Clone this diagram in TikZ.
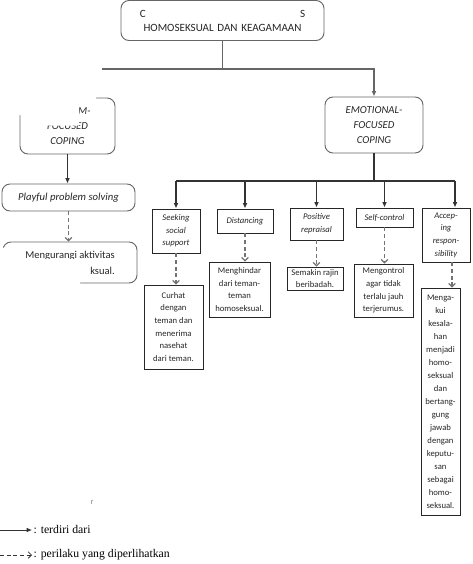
\documentclass[tikz,border=0pt]{standalone}
\usepackage{fontspec}
\setmainfont{Carlito}
\newfontfamily\legendfont{Liberation Serif}
\usetikzlibrary{arrows.meta, positioning}

\begin{document}
\begin{tikzpicture}[
    x=0.75pt, y=-0.75pt,
    rbox/.style={draw=black!60, rounded corners=6pt, line width=0.7pt, align=center, inner sep=1pt, text=black!85},
    sbox/.style={draw=black!85, line width=0.7pt, align=center, inner sep=1pt, font=\fontsize{6.5}{9.5}\selectfont, text=black!85},
    ibox/.style={sbox, font=\fontsize{6.5}{9.5}\selectfont\itshape},
    arr/.style={draw=black!80, line width=0.8pt, -{Latex[length=4pt,width=3.5pt]}},
    darr/.style={draw=black!55, line width=0.9pt, dash pattern=on 3pt off 2pt, -{Straight Barb[length=2.5pt,width=5pt]}}
  ]
    \useasboundingbox (0,0) rectangle (472,564);

    \node[rbox, minimum width=152.25pt, minimum height=30pt, text width=124pt, font=\fontsize{8.3}{10.5}\selectfont] (title) at (222.5,20.5) {C\hfill S\\HOMOSEKSUAL DAN KEAGAMAAN};

    \node[rbox, minimum width=71.25pt, minimum height=42pt, font=\fontsize{8}{11}\selectfont\itshape] (prob) at (67.5,126) {\phantom{PROBLE}M-\\FOCUSED\\COPING};
    \node[rbox, minimum width=73.5pt, minimum height=42pt, font=\fontsize{8}{11.25}\selectfont\itshape] (emo) at (374,125) {EMOTIONAL-\\FOCUSED\\COPING};

    \node[rbox, minimum width=99.75pt, minimum height=20.25pt, font=\fontsize{8}{10}\selectfont\itshape] (play) at (68.5,197.5) {Playful problem solving};
    \node[rbox, minimum width=100.5pt, minimum height=30.75pt, align=right, font=\fontsize{7.9}{12}\selectfont] (kurang) at (70,262.5) {Mengurangi aktivitas\\ksual.};

    \node[ibox, minimum width=36pt, minimum height=33pt] (seek) at (176,231) {Seeking\\social\\support};
    \node[ibox, minimum width=42pt, minimum height=18pt] (dist) at (245,221) {Distancing};
    \node[ibox, minimum width=39.75pt, minimum height=24pt] (pos) at (316.5,224) {Positive\\repraisal};
    \node[ibox, minimum width=42.75pt, minimum height=14.25pt] (self) at (384.5,217.5) {Self-control};
    \node[ibox, minimum width=36pt, minimum height=40.5pt] (acc) at (446,235) {Accep-\\ing\\respon-\\sibility};

    \node[sbox, minimum width=44.25pt, minimum height=63pt] (curhat) at (173.5,327) {Curhat\\dengan\\teman dan\\menerima\\nasehat\\dari teman.};
    \node[sbox, minimum width=45.75pt, minimum height=41.25pt] (hindar) at (239.5,289.5) {Menghindar\\dari teman-\\teman\\homoseksual.};
    \node[sbox, minimum width=42pt, minimum height=17.25pt] (rajin) at (315,278.5) {Semakin rajin\\beribadah.};
    \node[sbox, minimum width=44.25pt, minimum height=39.75pt] (kontrol) at (383.5,290.5) {Mengontrol\\agar tidak\\terlalu jauh\\terjerumus.};
    \node[sbox, minimum width=29.25pt, minimum height=170.25pt, font=\fontsize{6.5}{9.75}\selectfont] (menga) at (440.5,401.5) {Menga-\\kui\\kesala-\\han\\menjadi\\homo-\\seksual\\dan\\bertang-\\gung\\jawab\\dengan\\keputu-\\san\\sebagai\\homo-\\seksual.};

    \coordinate (busL) at (102,69);
    \coordinate (busE) at (374,181);
    \coordinate (accin) at (455,181);
    \coordinate (accx) at (452,0);

    \draw[draw=black!60, line width=1pt] (title.south) -- (title.south |- busL);
    \draw[arr, draw=black!60, line width=1pt] (busL) -| (emo.north);
    \draw[arr] (prob.south) -- (prob.south |- play.north);
    \draw[darr] (play.south) -- (play.south |- kurang.north);

    \draw[draw=black!80, line width=0.8pt] (emo.south) -- (busE);
    \draw[draw=black!80, line width=0.8pt] (seek.north |- busE) -- (accin);
    \foreach \n in {seek, dist, pos, self}
      \draw[arr] (\n.north |- busE) -- (\n.north);
    \draw[arr] (accin) -- (accin |- acc.north);

    \draw[darr] (seek.south) -- (seek.south |- curhat.north);
    \draw[darr] (dist.south) -- (dist.south |- hindar.north);
    \draw[darr] (pos.south) -- (pos.south |- rajin.north);
    \draw[darr] (self.south) -- (self.south |- kontrol.north);
    \draw[darr] (acc.south -| accx) -- (menga.north -| accx);

    \fill[white] (0,88) -- (96,88) -- (96,105) -- (79,105) -- (79,125.5) -- (42,125.5) -- (42,115) -- (0,115) -- cycle;
    \fill[white] (0,247.5) -- (15,247.5) -- (15,259) -- (80,259) -- (80,292) -- (0,292) -- cycle;

    \node[font=\fontsize{6}{7}\selectfont, text=black!50] (mark) at (92,503) {r};

    \coordinate (lg1a) at (0,530);
    \coordinate (lg2a) at (0,555);
    \node[anchor=west, inner sep=1pt, font=\legendfont\fontsize{8.8}{10}\selectfont] (lg1) at (32,530) {: terdiri dari};
    \node[anchor=west, inner sep=1pt, font=\legendfont\fontsize{8.8}{10}\selectfont] (lg2) at (32,555) {: perilaku yang diperlihatkan};
    \draw[arr, line width=0.6pt] (lg1a) -- (lg1.west);
    \draw[darr, draw=black!80, line width=0.6pt] (lg2a) -- (lg2.west);
\end{tikzpicture}
\end{document}
